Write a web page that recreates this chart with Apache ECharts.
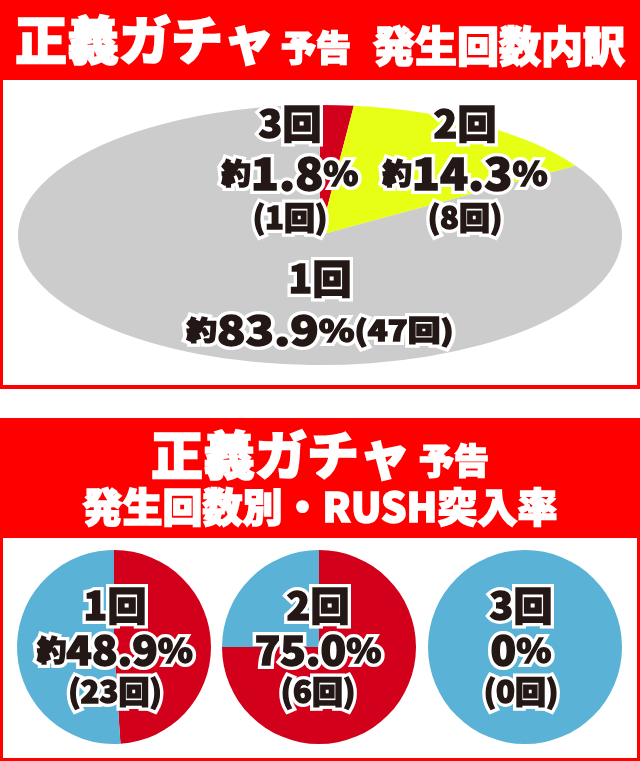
<!DOCTYPE html>
<html>
<head>
<meta charset="utf-8">
<script src="https://cdn.jsdelivr.net/npm/echarts@6/dist/echarts.min.js"></script>
<style>
html,body{margin:0;padding:0;background:#fff;}
#c{width:640px;height:761px;}
</style>
</head>
<body>
<div id="c"></div>
<script>
// ---------- data ----------
const topTitleMain = '正義ガチャ';
const topTitleSub = '予告';
const topTitleTail = '発生回数内訳';
const bottomTitleLine2 = '発生回数別・RUSH突入率';

const topCategories = ['3回', '2回', '1回'];
const topCounts = [1, 8, 47];
const topPercents = ['1.8', '14.3', '83.9'];

const rushCategories = ['1回', '2回', '3回'];
const rushWins = [23, 6, 0];
const rushTotals = [47, 8, 1];
const rushPercents = ['48.9', '75.0', '0'];
const rushApprox = [true, false, false];

// ---------- styles / layout ----------
const FONT = '"Noto Sans CJK JP","Noto Sans CJK SC",sans-serif';
const INK = '#231815';
const BANNER = '#FF0000';
const topColors = ['#D2001A', '#E6FF14', '#CCCCCC'];
const rushColors = ['#D2001A', '#5AB2D6'];

const ellipse = { cx: 320, cy: 235, rx: 302, ry: 130 };
const bottomCenters = [[114, 647], [319, 647], [525, 647]];
const bottomRadius = 97;

const sizes = { n: 39, p: 28, d: 44, pc: 34, c: 31, d2: 40, pc2: 31, c2: 28, p2: 26 };
function makeRich(stroke, lw) {
  const r = {};
  Object.keys(sizes).forEach(function (k) {
    r[k] = { fontSize: sizes[k], fontFamily: FONT, fontWeight: 900, fill: INK, stroke: stroke, lineWidth: lw };
  });
  return r;
}
const richOutline = makeRich('#fff', 8);
const richInk = makeRich(INK, 1.4);

function label(x, y, text, sx) {
  const mk = function (rich, stroke, lw, z) {
    return {
      type: 'text', x: x, y: y, scaleX: sx || 1, z: z,
      style: {
        text: text, x: 0, y: 0, align: 'center', verticalAlign: 'middle',
        fontFamily: FONT, fontWeight: 900, fontSize: 30,
        fill: INK, stroke: stroke, lineWidth: lw, rich: rich
      }
    };
  };
  return [mk(richOutline, '#fff', 8, 100), mk(richInk, INK, 1.4, 101)];
}
function titleText(x, y, text, size, align) {
  return {
    type: 'text', x: x, y: y, z: 50,
    style: {
      text: text, x: 0, y: 0, align: align || 'left', verticalAlign: 'middle',
      fontFamily: FONT, fontWeight: 900, fontSize: size, fill: '#fff',
      stroke: '#fff', lineWidth: 1.6
    }
  };
}

// ---------- graphics ----------
const graphics = [
  { type: 'rect', z: -10, shape: { x: 0, y: 0, width: 640, height: 389 }, style: { fill: BANNER } },
  { type: 'rect', z: -9, shape: { x: 3, y: 80, width: 634, height: 305 }, style: { fill: '#fff' } },
  { type: 'rect', z: -10, shape: { x: 0, y: 418, width: 640, height: 343 }, style: { fill: BANNER } },
  { type: 'rect', z: -9, shape: { x: 3, y: 538, width: 634, height: 220 }, style: { fill: '#fff' } },
  titleText(15, 40, topTitleMain, 52),
  titleText(281, 47.5, topTitleSub, 35),
  titleText(373, 46, topTitleTail, 42),
  titleText(151, 455, topTitleMain, 52),
  titleText(419, 461, topTitleSub, 35),
  titleText(320, 507, bottomTitleLine2, 40, 'center')
];
function addLabel(x, y, text, sx) {
  label(x, y, text, sx).forEach(function (g) { graphics.push(g); });
}

// top ellipse labels
const topLabelPos = [[290, 123, 173, 217], [465, 123, 173, 217]];
for (let i = 0; i < 2; i++) {
  const p = topLabelPos[i];
  addLabel(p[0], p[1], '{n|' + topCategories[i] + '}');
  addLabel(p[0], p[2], '{p|約}{d|' + topPercents[i] + '}{pc|%}', 1.05);
  addLabel(p[0], p[3], '{c|(' + topCounts[i] + '回)}');
}
addLabel(320, 278, '{n|' + topCategories[2] + '}');
addLabel(320, 330, '{p2|約}{d2|' + topPercents[2] + '}{pc2|%}{c2|(' + topCounts[2] + '回)}', 1.17);

// bottom labels
const bottomLabelX = [115, 318, 521];
for (let i = 0; i < 3; i++) {
  const x = bottomLabelX[i];
  addLabel(x, 605, '{n|' + rushCategories[i] + '}');
  addLabel(x, 650, (rushApprox[i] ? '{p|約}' : '') + '{d2|' + rushPercents[i] + '}{pc|%}', 1.05);
  addLabel(x, 691, '{c|(' + rushWins[i] + '回)}');
}

// ---------- series ----------
const topTotal = topCounts.reduce((a, b) => a + b, 0);
const series = [{
  type: 'custom',
  coordinateSystem: 'none',
  silent: true,
  z: 2,
  data: topCounts.map((v, i) => ({ name: topCategories[i], value: [v] })),
  renderItem: function (params, api) {
    const i = params.dataIndex;
    let before = 0;
    for (let k = 0; k < i; k++) before += topCounts[k];
    const v = api.value(0);
    const a0 = -Math.PI / 2 + before / topTotal * Math.PI * 2;
    const a1 = -Math.PI / 2 + (before + v) / topTotal * Math.PI * 2;
    return {
      type: 'sector',
      x: ellipse.cx, y: ellipse.cy,
      scaleX: 1, scaleY: ellipse.ry / ellipse.rx,
      shape: { cx: 0, cy: 0, r0: 0, r: ellipse.rx, startAngle: a0, endAngle: a1, clockwise: true },
      style: { fill: topColors[i] }
    };
  }
}];

for (let i = 0; i < 3; i++) {
  series.push({
    type: 'pie',
    silent: true,
    center: bottomCenters[i],
    radius: bottomRadius,
    startAngle: 90,
    clockwise: true,
    label: { show: false },
    labelLine: { show: false },
    itemStyle: { borderWidth: 0 },
    emphasis: { disabled: true },
    data: [
      { name: 'RUSH', value: rushWins[i], itemStyle: { color: rushColors[0] } },
      { name: 'その他', value: rushTotals[i] - rushWins[i], itemStyle: { color: rushColors[1] } }
    ]
  });
}

const chart = echarts.init(document.getElementById('c'), null, { renderer: 'canvas' });
chart.setOption({
  animation: false,
  backgroundColor: '#fff',
  graphic: { elements: graphics },
  series: series
});
</script>
</body>
</html>
